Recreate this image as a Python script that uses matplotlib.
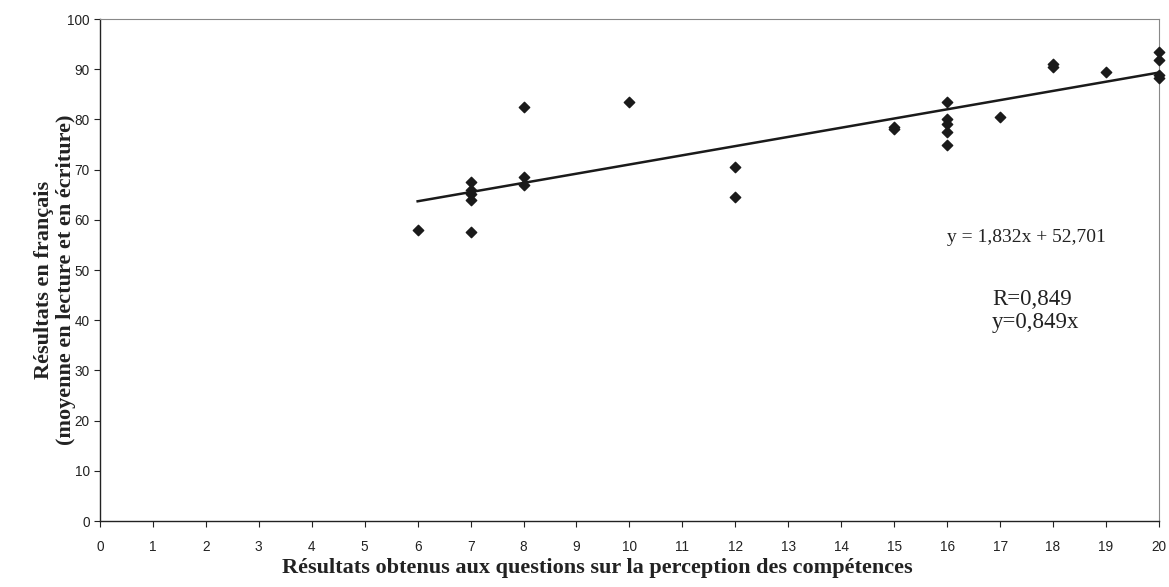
import numpy as np
import matplotlib
matplotlib.use('Agg')
import matplotlib.pyplot as plt

# scores de perception (x) et résultats en français (y)
perception = [6, 7, 7, 7, 7, 7, 8, 8, 8, 10, 12, 12, 15, 15,
              16, 16, 16, 16, 16, 17, 18, 18, 19, 20, 20, 20, 20]
francais = [58.0, 67.5, 66.0, 65.2, 64.0, 57.6, 82.5, 68.5, 67.0, 83.5, 70.5, 64.5, 78.5, 78.0,
            83.5, 80.0, 79.0, 77.5, 75.0, 80.4, 91.0, 90.5, 89.4, 93.4, 91.8, 88.8, 88.2]

# droite de régression affichée
pente = 1.832
ordonnee = 52.701
x_ticks = list(range(0, 21))
y_ticks = list(range(0, 101, 10))

plt.rcParams['font.family'] = ['Liberation Sans', 'DejaVu Sans']

fig = plt.figure(figsize=(11.69, 5.87), dpi=100)
ax = fig.add_axes([0.0855, 0.1124, 0.9059, 0.8552])

ax.scatter(perception, francais, marker='D', s=28, color='#1a1a1a', zorder=3, clip_on=False)

xs = np.array([6, 20])
ax.plot(xs, pente * xs + ordonnee, color='#1a1a1a', lw=1.8, zorder=2, clip_on=False)

ax.set_xlim(0, 20)
ax.set_ylim(0, 100)
ax.set_xticks(x_ticks)
ax.set_yticks(y_ticks)
ax.tick_params(axis='both', direction='out', length=4, width=0.8, labelsize=9.8, colors='#222222')
ax.tick_params(axis='x', pad=10)

for s in ['left', 'bottom']:
    ax.spines[s].set_color('#222222')
    ax.spines[s].set_linewidth(1.0)
for s in ['top', 'right']:
    ax.spines[s].set_color('#888888')
    ax.spines[s].set_linewidth(0.8)

serif = ['Liberation Serif', 'DejaVu Serif']
ax.set_xlabel('Résultats obtenus aux questions sur la perception des compétences',
              family=serif, fontsize=16, fontweight='bold', color='#222222')
ax.xaxis.set_label_coords(0.47, -0.074)
ax.set_ylabel('Résultats en français\n(moyenne en lecture et en écriture)',
              family=serif, fontsize=16, fontweight='bold', linespacing=1.1, color='#222222')
ax.yaxis.set_label_coords(-0.023, 0.48)

ax.text(16.0, 56.4, 'y = 1,832x + 52,701', family=serif, fontsize=14, ha='left', va='center',
        color='#222222')
ax.text(16.85, 41.8, 'R=0,849\ny=0,849x', family=serif, fontsize=16.5, ha='left', va='center',
        linespacing=1.15, color='#222222')

fig.savefig('out.png', dpi=100, facecolor='white')
